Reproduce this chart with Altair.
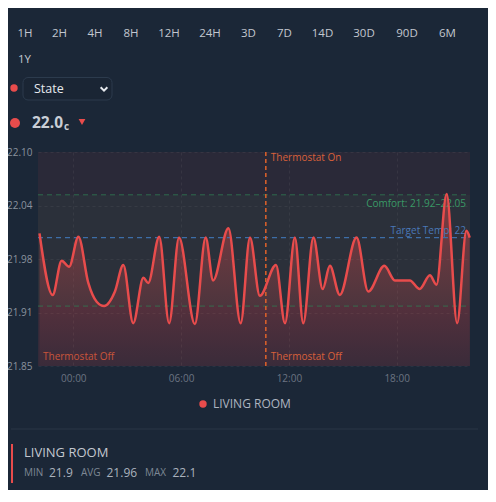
import altair as alt
import pandas as pd

# ---------------- data ----------------
times = [
    "2024-03-14T22:07", "2024-03-14T22:51", "2024-03-14T23:21", "2024-03-14T23:46",
    "2024-03-15T00:17", "2024-03-15T00:50", "2024-03-15T01:18", "2024-03-15T01:43",
    "2024-03-15T02:19", "2024-03-15T02:47", "2024-03-15T03:20", "2024-03-15T03:54",
    "2024-03-15T04:10", "2024-03-15T04:47", "2024-03-15T05:20", "2024-03-15T05:53",
    "2024-03-15T06:46", "2024-03-15T07:22", "2024-03-15T07:47", "2024-03-15T08:38",
    "2024-03-15T09:19", "2024-03-15T09:50", "2024-03-15T10:23", "2024-03-15T11:17",
    "2024-03-15T11:47", "2024-03-15T12:20", "2024-03-15T12:48", "2024-03-15T13:22",
    "2024-03-15T13:53", "2024-03-15T14:17", "2024-03-15T14:50", "2024-03-15T15:46",
    "2024-03-15T16:25", "2024-03-15T17:19", "2024-03-15T17:54", "2024-03-15T18:44",
    "2024-03-15T19:17", "2024-03-15T19:51", "2024-03-15T20:13", "2024-03-15T20:47",
    "2024-03-15T21:22", "2024-03-15T21:53", "2024-03-15T22:04",
]
temps = [
    22.005, 21.933, 21.973, 21.966,
    22.001, 21.947, 21.925, 21.920,
    21.937, 21.968, 21.900, 21.953,
    21.947, 22.001, 21.900, 22.000,
    21.899, 22.000, 21.950, 22.011,
    21.900, 22.000, 21.932, 21.968,
    21.900, 22.000, 21.900, 22.000,
    21.940, 21.967, 21.933, 22.000,
    21.937, 21.967, 21.950, 21.950,
    21.940, 21.956, 21.945, 22.051,
    21.900, 22.008, 22.000,
]
series_name = "LIVING ROOM"
ranges = ["1H", "2H", "4H", "8H", "12H", "24H", "3D", "7D", "14D", "30D", "90D", "6M", "1Y"]
y_ticks = [21.85, 21.9125, 21.975, 22.0375, 22.10]
y_domain = [21.85, 22.10]
comfort = [21.92, 22.05]
target = 22.0
thermo_time = ["2024-03-15T10:43"]
current_value = "22.0"
current_unit = "c"
dropdown_label = "State"
stat_names = ["MIN", "AVG", "MAX"]
stat_values = ["21.9", "21.96", "22.1"]

# ---------------- layout ----------------
W, H = 432, 214
PAD = {"left": 30, "top": 144, "right": 18, "bottom": 124}
OX, OY = 38, 152  # plot origin in page coords
FONT = "Open Sans"
RED = "#e84c4c"
BG = "#1b2737"


def px(X):
    return X - OX


def py(Y):
    return Y - OY


def txt(label, X, Y, size=11, color="#c3c8d0", weight="normal", align="left"):
    return alt.Chart(pd.DataFrame({"t": [label]})).mark_text(
        align=align, baseline="middle", fontSize=size, color=color,
        fontWeight=weight, font=FONT
    ).encode(x=alt.value(px(X)), y=alt.value(py(Y)), text="t:N")


def dot(X, Y, size, color=RED, shape="circle"):
    return alt.Chart(pd.DataFrame({"a": [0]})).mark_point(
        shape=shape, filled=True, size=size, color=color, opacity=1
    ).encode(x=alt.value(px(X)), y=alt.value(py(Y)))


def box(X1, Y1, X2, Y2, fill, stroke=None, radius=0):
    kw = dict(fill=fill, cornerRadius=radius)
    if stroke:
        kw.update(stroke=stroke, strokeWidth=1)
    return alt.Chart(pd.DataFrame({"a": [0]})).mark_rect(**kw).encode(
        x=alt.value(px(X1)), x2=alt.value(px(X2)),
        y=alt.value(py(Y1)), y2=alt.value(py(Y2)))


df = pd.DataFrame({"time": times, "temp": temps})

xscale = alt.Scale(domain=[
    alt.DateTime(year=2024, month=3, date=14, hours=22, minutes=2),
    alt.DateTime(year=2024, month=3, date=15, hours=22, minutes=5)])
xaxis = alt.Axis(
    values=[alt.DateTime(year=2024, month=3, date=15, hours=h) for h in (0, 6, 12, 18)],
    format="%H:%M", grid=True, gridDash=[3, 3], gridColor="#ffffff", gridOpacity=0.06,
    ticks=False, domain=False, labelColor="#6b7482", labelFontSize=10, labelFont=FONT,
    labelPadding=7, title=None)
yscale = alt.Scale(domain=y_domain, zero=False, nice=False)
yaxis = alt.Axis(
    values=y_ticks, labelExpr="format(datum.value + 0.0001, '.2f')",
    grid=True, gridDash=[3, 3], gridColor="#ffffff", gridOpacity=0.06,
    ticks=False, domain=False, labelColor="#8a929e", labelFontSize=10, labelFont=FONT,
    labelPadding=6, title=None)


def X(field):
    return alt.X(field, type="temporal", scale=xscale, axis=xaxis)


def Y(field):
    return alt.Y(field, type="quantitative", scale=yscale, axis=yaxis)


# background bands
bands = pd.DataFrame({
    "lo": [y_domain[0], comfort[0], y_domain[0]],
    "hi": [y_domain[1], comfort[1], comfort[0]],
    "c": [RED, "#4caf6a", RED],
    "o": [0.08, 0.06, 0.05],
})
band_layer = alt.Chart(bands).mark_rect().encode(
    x=alt.value(0), x2=alt.value(W), y=Y("lo"), y2="hi:Q",
    color=alt.Color("c:N", scale=None), opacity=alt.Opacity("o:Q", scale=None))

grad = alt.Gradient(
    gradient="linear",
    stops=[alt.GradientStop(color="rgba(232,76,76,0.45)", offset=0),
           alt.GradientStop(color="rgba(232,76,76,0.04)", offset=1)],
    x1=1, x2=1, y1=0, y2=1)
area = alt.Chart(df).mark_area(interpolate="monotone", color=grad).encode(
    x=X("time"), y=Y("temp"), y2=alt.datum(y_domain[0]))
line = alt.Chart(df).mark_line(interpolate="monotone", color=RED, strokeWidth=2.5).encode(
    x=X("time"), y=Y("temp"))

comfort_rules = alt.Chart(pd.DataFrame({"v": comfort})).mark_rule(
    color="#2f7a52", strokeDash=[5, 4], strokeWidth=1, opacity=0.8).encode(
    y=Y("v"), x=alt.value(0), x2=alt.value(W))
target_rule = alt.Chart(pd.DataFrame({"v": [target]})).mark_rule(
    color="#3d6ea8", strokeDash=[5, 4], strokeWidth=1.2).encode(
    y=Y("v"), x=alt.value(0), x2=alt.value(W))

tdf = pd.DataFrame({"time": thermo_time, "on": ["Thermostat On"], "off": ["Thermostat Off"]})
thermo_rule = alt.Chart(tdf).mark_rule(
    color="#e0622a", strokeDash=[4, 3], strokeWidth=1.5).encode(
    x=X("time"), y=alt.value(0), y2=alt.value(H))
thermo_on = alt.Chart(tdf).mark_text(
    align="left", baseline="middle", dx=5, fontSize=10, color="#d9603a", font=FONT).encode(
    x=X("time"), y=alt.value(py(158)), text="on:N")
thermo_off = alt.Chart(tdf).mark_text(
    align="left", baseline="middle", dx=5, fontSize=10, color="#d9603a", font=FONT).encode(
    x=X("time"), y=alt.value(py(357)), text="off:N")
thermo_off_left = txt("Thermostat Off", 43, 357, size=10, color="#c9553a")

comfort_label = alt.Chart(pd.DataFrame({"v": [comfort[1]], "t": [f"Comfort: {comfort[0]}–{comfort[1]}"]})).mark_text(
    align="right", baseline="middle", dy=9, fontSize=10, color="#3a9a66", font=FONT).encode(
    x=alt.value(px(466)), y=Y("v"), text="t:N")
target_label = alt.Chart(pd.DataFrame({"v": [target], "t": [f"Target Temp: {target:g}"]})).mark_text(
    align="right", baseline="middle", dy=-7, fontSize=10, color="#4a78b8", font=FONT).encode(
    x=alt.value(px(466)), y=Y("v"), text="t:N")

# header UI
btn_x = [25, 59.5, 95, 131, 169, 210, 248.5, 284.5, 322.5, 364, 407, 447.5, 24.5]
btn_y = [34] * 12 + [60]
btns = alt.Chart(pd.DataFrame({"t": ranges, "x": [px(v) for v in btn_x], "y": [py(v) for v in btn_y]})).mark_text(
    align="center", baseline="middle", fontSize=11.5, color="#c3c8d0", fontWeight=500, font=FONT).encode(
    x=alt.X("x:Q", scale=None), y=alt.Y("y:Q", scale=None), text="t:N")

chevron = alt.Chart(pd.DataFrame({"a": [0]})).mark_point(
    shape="M-1,-0.5L0,0.5L1,-0.5", size=45, filled=False, color="#e6e9ee",
    strokeWidth=2, opacity=1).encode(x=alt.value(px(104)), y=alt.value(py(89)))

header = [
    btns,
    dot(14, 88, 55),
    box(23, 77.5, 112, 100, fill="#1a2534", stroke="#2c3b4d", radius=5),
    txt(dropdown_label, 34, 89, size=12.5, color="#e6e9ee", weight=500),
    chevron,
    dot(15, 123, 100),
    txt(current_value, 32, 123, size=15.5, color="#c9ced6", weight="bold"),
    txt(current_unit, 64, 127, size=10, color="#c9ced6", weight="bold"),
    dot(82, 122, 45, shape="triangle-down"),
]

footer = [
    dot(203, 404, 55),
    txt(series_name, 213, 404, size=12, color="#aeb5c0"),
    box(11, 428.5, 478, 429.5, fill="#2b3747"),
    box(11, 444, 13, 483, fill=RED),
    txt(series_name, 24, 453, size=13, color="#c3c8d0"),
    txt(stat_names[0], 24, 473, size=10, color="#7e8794"),
    txt(stat_values[0], 49, 473, size=12, color="#aab2bd"),
    txt(stat_names[1], 81, 473, size=10, color="#7e8794"),
    txt(stat_values[1], 106.5, 473, size=12, color="#aab2bd"),
    txt(stat_names[2], 145, 473, size=10, color="#7e8794"),
    txt(stat_values[2], 172.5, 473, size=12, color="#aab2bd"),
]

chart = alt.layer(
    band_layer, area, comfort_rules, target_rule, comfort_label, target_label,
    thermo_rule, thermo_on, thermo_off, thermo_off_left, line,
    *header, *footer
).properties(
    width=W, height=H,
    autosize=alt.AutoSizeParams(type="none"),
    padding=PAD,
    background=BG,
).configure(font=FONT).configure_view(strokeWidth=0)

chart.save("out.html", embed_options={"renderer": "svg", "actions": False})
